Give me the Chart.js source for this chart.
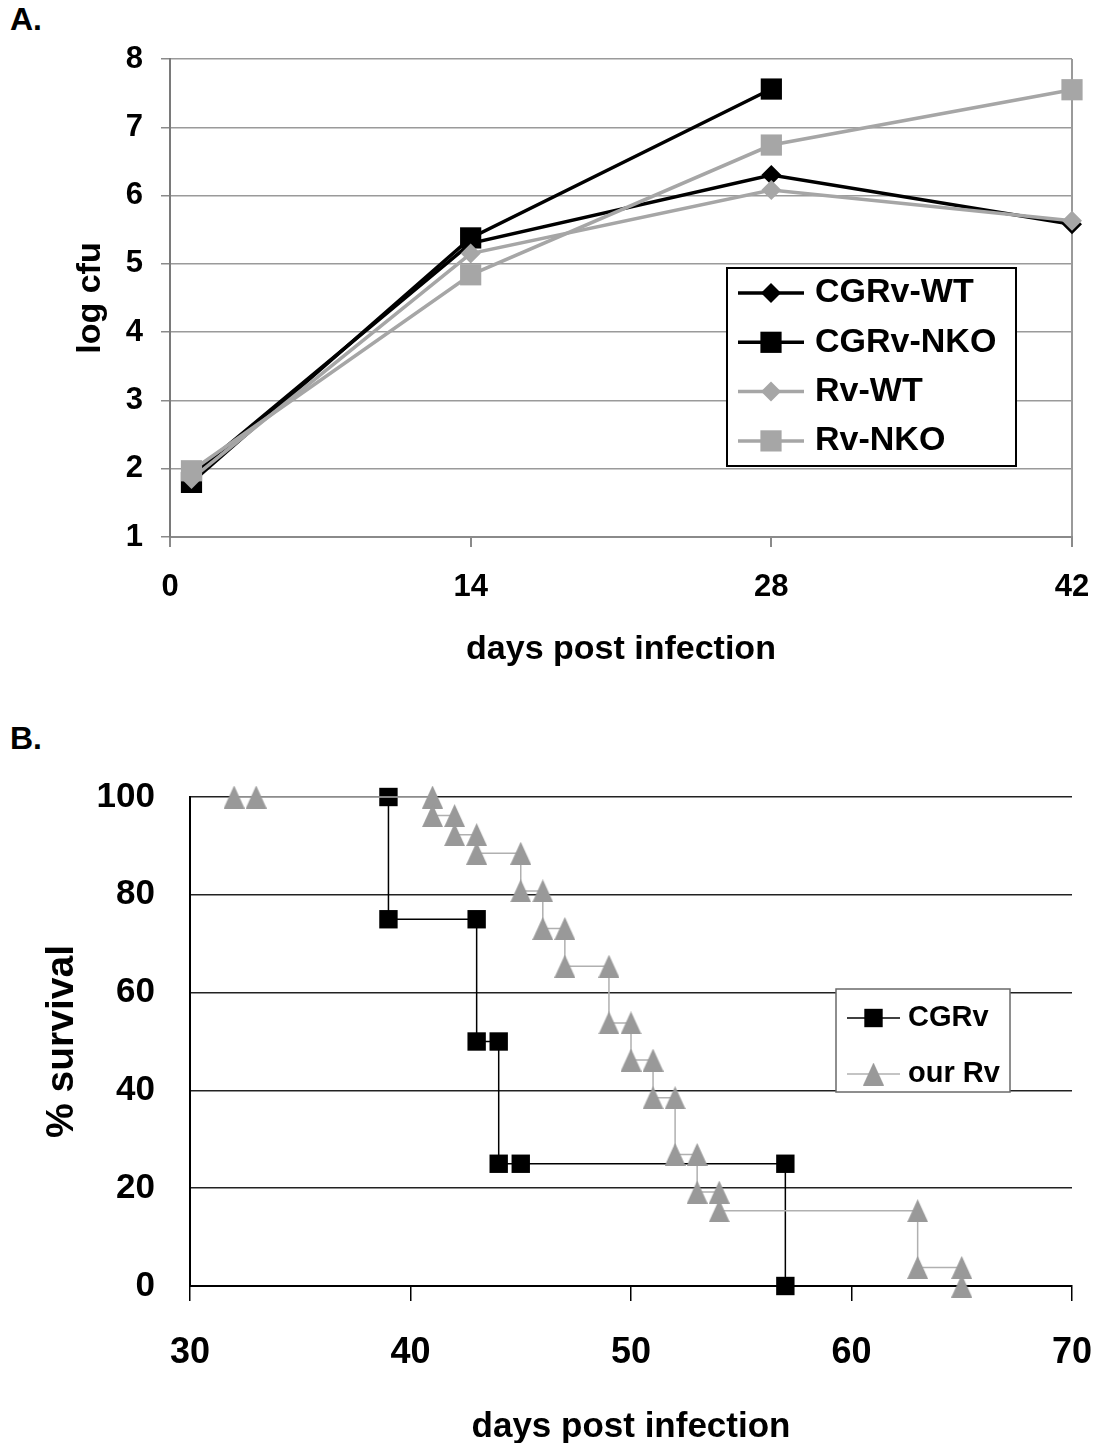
<!DOCTYPE html>
<html>
<head>
<meta charset="utf-8">
<script src="https://cdn.jsdelivr.net/npm/chart.js@4.4.0/dist/chart.umd.min.js"></script>
<style>
    body { margin: 0; background: #fff; width: 1099px; height: 1443px; overflow: hidden; position: relative; font-family: "Liberation Sans", Arial, sans-serif; }
    .panel { position: absolute; left: 10px; font-weight: bold; font-size: 32px; line-height: 32px; }
    #chartA { position: absolute; left: 0; top: 0; }
    #chartB { position: absolute; left: 0; top: 690px; }
</style>
</head>
<body>
<div class="panel" style="top:3px">A.</div>
<div class="panel" style="top:722px">B.</div>
<canvas id="chartA" width="1099" height="700"></canvas>
<canvas id="chartB" width="1099" height="770"></canvas>
<script>
// panel A: bacterial load
const cfuDays = [1, 14, 28, 42];
const cgrvWt = [1.9, 5.3, 6.3, 5.58];
const cgrvNko = [1.8, 5.38, 7.56, null];
const rvWt = [1.85, 5.15, 6.08, 5.63];
const rvNko = [1.97, 4.84, 6.74, 7.55];
const cfuXTicks = [0, 14, 28, 42];
const cfuYTicks = [1, 2, 3, 4, 5, 6, 7, 8];

// panel B: survival
const cgrvDays = [39, 39, 43, 43, 44, 44, 45, 57, 57];
const cgrvSurv = [100, 75, 75, 50, 50, 25, 25, 25, 0];
const ourRvDays = [32, 33, 41, 41, 42, 42, 43, 43, 45, 45, 46, 46, 47, 47, 49, 49, 50, 50, 51, 51, 52, 52, 53, 53, 54, 54, 63, 63, 65, 65];
const ourRvSurv = [100, 100, 100, 96.2, 96.2, 92.3, 92.3, 88.5, 88.5, 80.8, 80.8, 73.1, 73.1, 65.4, 65.4, 53.8, 53.8, 46.2, 46.2, 38.5, 38.5, 26.9, 26.9, 19.2, 19.2, 15.4, 15.4, 3.8, 3.8, 0];
const survXTicks = [30, 40, 50, 60, 70];
const survYTicks = [0, 20, 40, 60, 80, 100];

const sans = '"Liberation Sans", Arial, sans-serif';
Chart.defaults.font.family = sans;
Chart.defaults.color = "#000";

const zip = (xs, ys) => xs.map((x, i) => ({ x: x, y: ys[i] }));
const useTicks = (list) => (s) => { s.ticks = list.map((v) => ({ value: v })); };
// fixed axis size, and no extra room asked for the end labels
const fixHeight = (h) => (s) => { s.height = h; s.paddingLeft = 0; s.paddingRight = 0; };
const fixWidth = (w) => (s) => { s.width = w; s.paddingTop = 0; s.paddingBottom = 0; };

function triangleMark(w, h, color) {
    const c = document.createElement("canvas");
    c.width = w;
    c.height = h;
    const g = c.getContext("2d");
    g.fillStyle = color;
    g.beginPath();
    g.moveTo(w / 2, 0);
    g.lineTo(w, h);
    g.lineTo(0, h);
    g.closePath();
    g.fill();
    return c;
}

// legend box drawn inside the plot, like the original
const boxLegend = {
    id: "boxLegend",
    afterDatasetsDraw(chart, args, o) {
        const ctx = chart.ctx;
        ctx.save();
        ctx.fillStyle = "#fff";
        ctx.fillRect(o.left, o.top, o.width, o.height);
        ctx.lineWidth = o.borderWidth;
        ctx.strokeStyle = o.borderColor;
        ctx.strokeRect(o.left, o.top, o.width, o.height);
        chart.data.datasets.forEach((ds, i) => {
            const y = o.firstRow + i * o.rowGap;
            ctx.strokeStyle = ds.borderColor;
            ctx.lineWidth = ds.borderWidth;
            ctx.beginPath();
            ctx.moveTo(o.lineFrom, y);
            ctx.lineTo(o.lineTo, y);
            ctx.stroke();
            ctx.fillStyle = ds.pointBackgroundColor;
            Chart.helpers.drawPoint(ctx, {
                pointStyle: ds.pointStyle,
                radius: ds.pointRadius,
                rotation: 0,
                borderWidth: 0,
            }, (o.lineFrom + o.lineTo) / 2, y);
            ctx.fillStyle = "#000";
            ctx.font = o.font;
            ctx.textAlign = "left";
            ctx.textBaseline = "middle";
            ctx.fillText(ds.label, o.textX, y);
        });
        ctx.restore();
    },
};

function cfuSet(label, values, color, style, radius, order) {
    return {
        label: label,
        data: zip(cfuDays, values),
        borderColor: color,
        backgroundColor: color,
        pointBackgroundColor: color,
        pointBorderColor: color,
        pointBorderWidth: 0,
        borderWidth: 3.5,
        pointStyle: style,
        pointRadius: radius,
        order: order,
        clip: false,
    };
}

new Chart(document.getElementById("chartA"), {
    type: "line",
    plugins: [boxLegend],
    data: {
        datasets: [
            cfuSet("CGRv-WT", cgrvWt, "#000", "rectRot", 10, 4),
            cfuSet("CGRv-NKO", cgrvNko, "#000", "rect", 15, 3),
            cfuSet("Rv-WT", rvWt, "#a6a6a6", "rectRot", 10, 2),
            cfuSet("Rv-NKO", rvNko, "#a6a6a6", "rect", 15, 1),
        ],
    },
    options: {
        responsive: false,
        animation: false,
        layout: { padding: { top: 59, right: 27, left: 0, bottom: 0 } },
        plugins: {
            legend: { display: false },
            tooltip: { enabled: false },
            boxLegend: {
                left: 727, top: 268, width: 289, height: 198,
                borderWidth: 2, borderColor: "#000",
                firstRow: 293, rowGap: 49.3,
                lineFrom: 738, lineTo: 804, textX: 815,
                font: "bold 34px " + sans,
            },
        },
        scales: {
            x: {
                type: "linear",
                min: 0,
                max: 42,
                afterBuildTicks: useTicks(cfuXTicks),
                afterFit: fixHeight(163),
                grid: {
                    color: (c) => (c.tick && c.tick.value === 42 ? "#9a9a9a" : "rgba(0,0,0,0)"),
                    tickColor: "#8a8a8a",
                    lineWidth: 2,
                    tickLength: 10,
                },
                border: { color: "#8a8a8a", width: 2 },
                ticks: { font: { size: 31, weight: "bold" }, padding: 22, maxRotation: 0 },
                title: {
                    display: true,
                    text: "days post infection",
                    font: { size: 34, weight: "bold" },
                    padding: { top: 0, bottom: 30 },
                },
            },
            y: {
                min: 1,
                max: 8,
                afterBuildTicks: useTicks(cfuYTicks),
                afterFit: fixWidth(170),
                grid: { color: "#9a9a9a", lineWidth: 1.5, tickLength: 9, tickColor: "#8a8a8a" },
                border: { color: "#7a7a7a", width: 2 },
                ticks: { font: { size: 31, weight: "bold" }, padding: 18 },
                title: {
                    display: true,
                    text: "log cfu",
                    font: { size: 34, weight: "bold" },
                    padding: { top: 70, bottom: 0 },
                },
            },
        },
    },
});

const triMark = triangleMark(21, 23, "#999999");

new Chart(document.getElementById("chartB"), {
    type: "line",
    plugins: [boxLegend],
    data: {
        datasets: [
            {
                label: "CGRv",
                data: zip(cgrvDays, cgrvSurv),
                borderColor: "#000",
                pointBackgroundColor: "#000",
                pointBorderColor: "#000",
                pointBorderWidth: 0,
                borderWidth: 1.5,
                pointStyle: "rect",
                pointRadius: 13,
                order: 2,
                clip: false,
            },
            {
                label: "our Rv",
                data: zip(ourRvDays, ourRvSurv),
                borderColor: "#b0b0b0",
                pointBackgroundColor: "#999999",
                pointBorderColor: "#999999",
                pointBorderWidth: 0,
                borderWidth: 1.5,
                pointStyle: triMark,
                pointRadius: 11,
                order: 1,
                clip: false,
            },
        ],
    },
    options: {
        responsive: false,
        animation: false,
        layout: { padding: { top: 107, right: 27, left: 0, bottom: 0 } },
        plugins: {
            legend: { display: false },
            tooltip: { enabled: false },
            boxLegend: {
                left: 836, top: 299, width: 174, height: 103,
                borderWidth: 1.5, borderColor: "#6a6a6a",
                firstRow: 328, rowGap: 56,
                lineFrom: 847, lineTo: 900, textX: 908,
                font: "bold 29px " + sans,
            },
        },
        scales: {
            x: {
                type: "linear",
                min: 30,
                max: 70,
                afterBuildTicks: useTicks(survXTicks),
                afterFit: fixHeight(174),
                grid: { drawOnChartArea: false, tickLength: 15, tickColor: "#000", lineWidth: 1.5 },
                border: { color: "#000", width: 2 },
                ticks: { font: { size: 36, weight: "bold" }, padding: 30, maxRotation: 0 },
                title: {
                    display: true,
                    text: "days post infection",
                    font: { size: 35, weight: "bold" },
                    padding: { top: 0, bottom: 12 },
                },
            },
            y: {
                min: 0,
                max: 100,
                afterBuildTicks: useTicks(survYTicks),
                afterFit: fixWidth(190),
                grid: { color: "#222", lineWidth: 1.5, drawTicks: false },
                border: { color: "#000", width: 2 },
                ticks: { font: { size: 35, weight: "bold" }, padding: 35 },
                title: {
                    display: true,
                    text: "% survival",
                    font: { size: 39, weight: "bold" },
                    padding: { top: 39, bottom: 0 },
                },
            },
        },
    },
});
</script>
</body>
</html>
